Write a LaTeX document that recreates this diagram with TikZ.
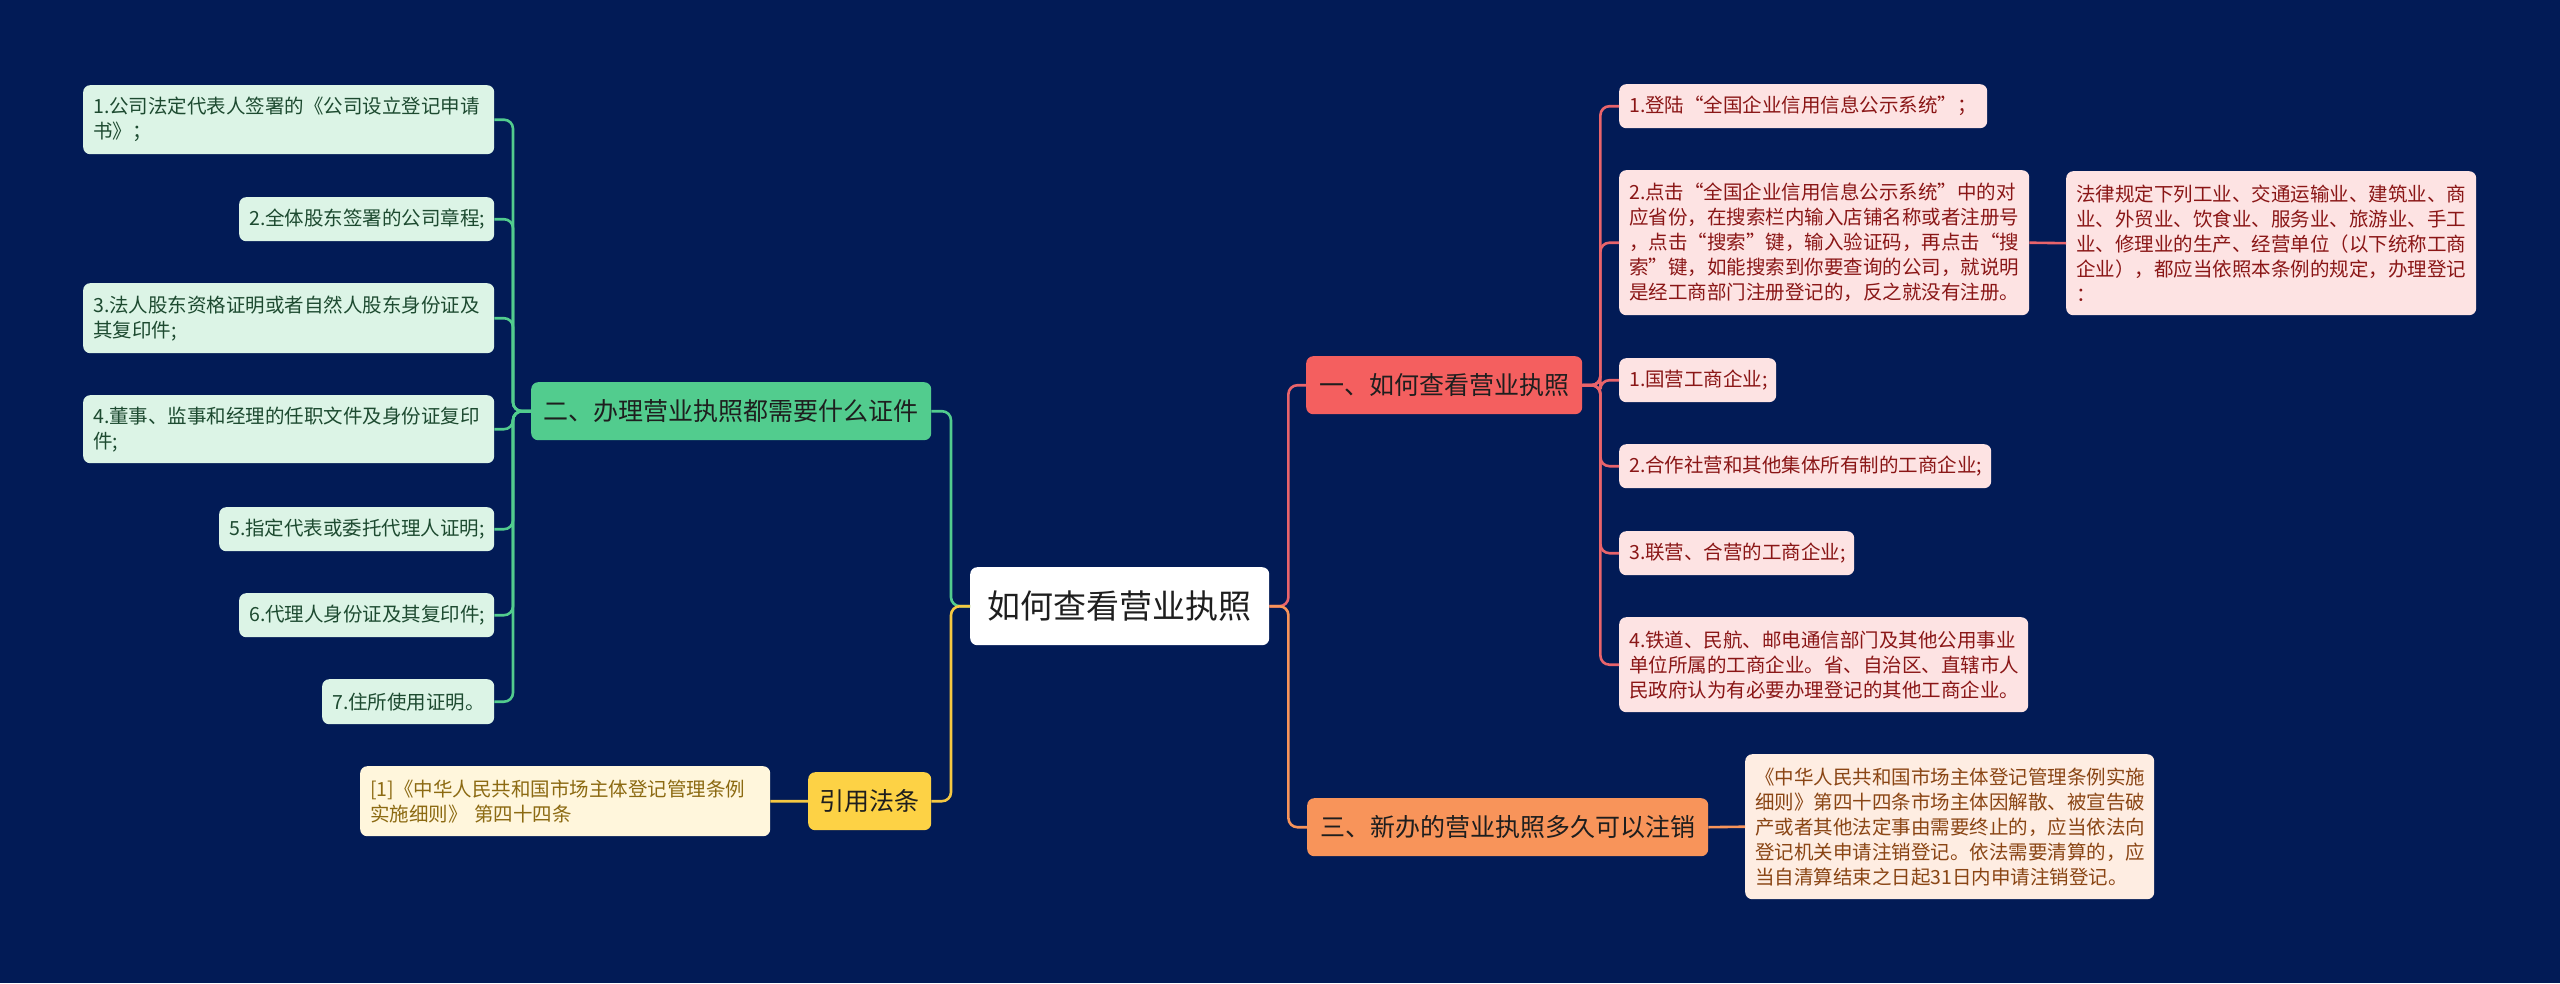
\documentclass[tikz,border=0pt]{standalone}
\usepackage{fontspec}
\setmainfont{Noto Sans CJK SC}
\definecolor{bg}{HTML}{021B56}
\definecolor{gmainc}{HTML}{52CC8E}
\definecolor{gleafc}{HTML}{DCF4E6}
\definecolor{gtext}{HTML}{1D4A30}
\definecolor{rmainc}{HTML}{F45F5F}
\definecolor{rleafc}{HTML}{FDE3E3}
\definecolor{rtext}{HTML}{8A1616}
\definecolor{rline}{HTML}{E9646B}
\definecolor{omainc}{HTML}{F8945A}
\definecolor{oleafc}{HTML}{FEEDE2}
\definecolor{otext}{HTML}{8A4514}
\definecolor{ymainc}{HTML}{FDD245}
\definecolor{yline}{HTML}{F5C842}
\definecolor{yleafc}{HTML}{FFF6DC}
\definecolor{ytext}{HTML}{8C6A12}
\definecolor{maintext}{HTML}{1E1E1E}
\begin{document}
\begin{tikzpicture}[x=1bp,y=-1bp,
  leafbox/.style={rounded corners=7bp, inner xsep=10bp, inner ysep=0bp, anchor=north west, align=left,
    font=\fontsize{19.5bp}{25bp}\selectfont},
  gleaf/.style={leafbox, fill=gleafc, text=gtext},
  rleaf/.style={leafbox, fill=rleafc, text=rtext},
  oleaf/.style={leafbox, fill=oleafc, text=otext},
  yleaf/.style={leafbox, fill=yleafc, text=ytext},
  mainbox/.style={rounded corners=7bp, inner sep=0bp, anchor=north west, align=center, text=maintext,
    font=\fontsize{25bp}{30bp}\selectfont},
  conn/.style={line width=2.6bp, rounded corners=9bp},
  gl/.style={conn, draw=gmainc},
  rl/.style={conn, draw=rline},
  ol/.style={conn, draw=omainc},
  yl/.style={conn, draw=yline}
]
\fill[bg] (0,0) rectangle (2560,983);
\useasboundingbox (0,0) rectangle (2560,983);

% centre
\node[mainbox, fill=white, minimum width=299bp, minimum height=78bp,
  font=\fontsize{33bp}{38bp}\selectfont] (center) at (970,567) {如何查看营业执照};

% main topics
\node[mainbox, fill=gmainc, minimum width=400bp, minimum height=58bp] (gmain) at (531,382) {二、办理营业执照都需要什么证件};
\node[mainbox, fill=ymainc, minimum width=123bp, minimum height=58bp] (ymain) at (808,772) {引用法条};
\node[mainbox, fill=rmainc, minimum width=276bp, minimum height=58bp] (rmain) at (1306,356) {一、如何查看营业执照};
\node[mainbox, fill=omainc, minimum width=401bp, minimum height=58bp] (omain) at (1307,798) {三、新办的营业执照多久可以注销};

% green leaves
\node[gleaf, text width=391bp, minimum height=69bp] (l1) at (83,85) {1.公司法定代表人签署的《公司设立登记申请\\书》；};
\node[gleaf, text width=235bp, minimum height=44bp] (l2) at (239,197) {2.全体股东签署的公司章程;};
\node[gleaf, text width=391bp, minimum height=70bp] (l3) at (83,283) {3.法人股东资格证明或者自然人股东身份证及\\其复印件;};
\node[gleaf, text width=391bp, minimum height=68bp] (l4) at (83,395) {4.董事、监事和经理的任职文件及身份证复印\\件;};
\node[gleaf, text width=255bp, minimum height=44bp] (l5) at (219,507) {5.指定代表或委托代理人证明;};
\node[gleaf, text width=235bp, minimum height=44bp] (l6) at (239,593) {6.代理人身份证及其复印件;};
\node[gleaf, text width=152bp, minimum height=45bp] (l7) at (322,679) {7.住所使用证明。};

% yellow leaf
\node[yleaf, text width=390bp, minimum height=70bp] (y1) at (360,766) {[1]《中华人民共和国市场主体登记管理条例\\实施细则》 第四十四条};

% red leaves
\node[rleaf, text width=348bp, minimum height=44bp] (r1) at (1619,84) {1.登陆“全国企业信用信息公示系统”；};
\node[rleaf, text width=390bp, minimum height=145bp] (r2) at (1619,170) {2.点击“全国企业信用信息公示系统”中的对\\应省份，在搜索栏内输入店铺名称或者注册号\\，点击“搜索”键，输入验证码，再点击“搜\\索”键，如能搜索到你要查询的公司，就说明\\是经工商部门注册登记的，反之就没有注册。};
\node[rleaf, text width=390bp, minimum height=144bp] (r2b) at (2066,171) {法律规定下列工业、交通运输业、建筑业、商\\业、外贸业、饮食业、服务业、旅游业、手工\\业、修理业的生产、经营单位（以下统称工商\\企业），都应当依照本条例的规定，办理登记\\：};
\node[rleaf, text width=137bp, minimum height=44bp] (r3) at (1619,358) {1.国营工商企业;};
\node[rleaf, text width=352bp, minimum height=44bp] (r4) at (1619,444) {2.合作社营和其他集体所有制的工商企业;};
\node[rleaf, text width=215bp, minimum height=44bp] (r5) at (1619,531) {3.联营、合营的工商企业;};
\node[rleaf, text width=389bp, minimum height=95bp] (r6) at (1619,617) {4.铁道、民航、邮电通信部门及其他公用事业\\单位所属的工商企业。省、自治区、直辖市人\\民政府认为有必要办理登记的其他工商企业。};

% orange leaf
\node[oleaf, text width=389bp, minimum height=145bp] (o1) at (1745,754) {《中华人民共和国市场主体登记管理条例实施\\细则》第四十四条市场主体因解散、被宣告破\\产或者其他法定事由需要终止的，应当依法向\\登记机关申请注销登记。依法需要清算的，应\\当自清算结束之日起31日内申请注销登记。};

% connectors: centre to main topics
\draw[gl] (center.west) -- ++(-19,0) |- (gmain.east);
\draw[yl] (center.west) -- ++(-19,0) |- (ymain.east);
\draw[rl] (center.east) -- ++(19,0) |- (rmain.west);
\draw[ol] (center.east) -- ++(19,0) |- (omain.west);

% green branch
\foreach \n in {l1,l2,l3,l4,l5,l6,l7}{
  \draw[gl] (gmain.west) -- ++(-18,0) |- (\n.east);
}
% red branch
\foreach \n in {r1,r2,r3,r4,r5,r6}{
  \draw[rl] (rmain.east) -- ++(18,0) |- (\n.west);
}
\draw[rl] (r2.east) -- (r2b.west);
% orange and yellow
\draw[ol] (omain.east) -- (o1.west);
\draw[yl] (ymain.west) -- (y1.east);
\end{tikzpicture}
\end{document}
